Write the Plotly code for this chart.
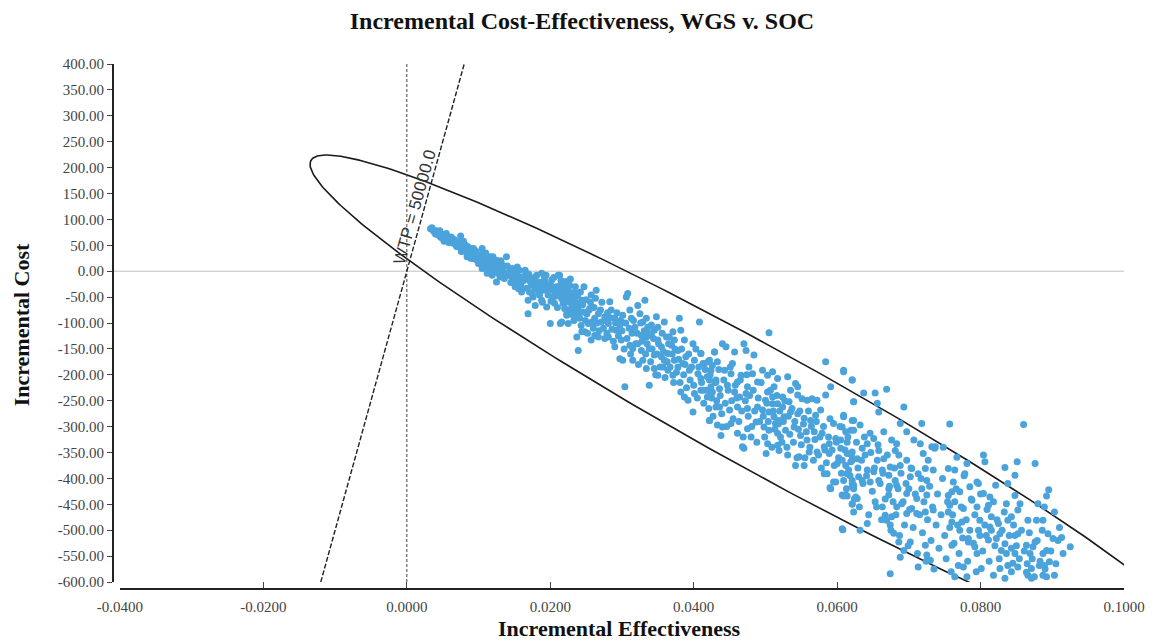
import numpy as np
import plotly.graph_objects as go

# ---------------- data ----------------
# group A: upper-left dense band
eff_a = [0.0033,0.0038,0.0044,0.0050,0.0044,0.0054,0.0061,0.0058,0.0065,0.0063,0.0070,0.0075,0.0077,0.0082,0.0086,
         0.0091,0.0095,0.0084,0.0089,0.0098,0.0105,0.0107,0.0112,0.0116,0.0121,0.0125,0.0128,0.0132,0.0139,0.0137,
         0.0142,0.0105,0.0112,0.0119,0.0125,0.0130,0.0146,0.0151,0.0156,0.0160,0.0165,0.0169,0.0174,0.0179,0.0181,
         0.0183,0.0188,0.0190,0.0195,0.0197,0.0202,0.0207,0.0211,0.0214,0.0216,0.0220,0.0225,0.0227,0.0230,0.0234,
         0.0237,0.0232,0.0239,0.0169,0.0176,0.0179,0.0188,0.0195,0.0200,0.0214,0.0169,0.0220,0.0223,0.0156,0.0160,
         0.0151,0.0100,0.0109,0.0114,0.0123,0.0132,0.0144,0.0153,0.0158,0.0165,0.0176,0.0186,0.0193,0.0200,0.0204,
         0.0209,0.0218,0.0225,0.0230,0.0234,0.0036,0.0041,0.0047,0.0052,0.0056,0.0068,0.0072,0.0080,0.0088,0.0093,
         0.0102,0.0110,0.0118,0.0127,0.0135,0.0148,0.0154,0.0162,0.0171,0.0185,0.0192,0.0206,0.0212,0.0222,
         0.0035,0.0040,0.0046,0.0049,0.0055,0.0059,0.0062,0.0066,0.0069,0.0073,0.0076,0.0079,0.0083,0.0085,0.0090,
         0.0093,0.0096,0.0099,0.0103,0.0106,0.0108,0.0111,0.0115,0.0117,0.0120,0.0122,0.0126,0.0129,0.0131,0.0134,
         0.0136,0.0140,0.0143,0.0145,0.0147,0.0150,0.0152,0.0155,0.0157,0.0159,0.0163,0.0167,0.0170,0.0172,0.0175,
         0.0178,0.0180,0.0184,0.0187,0.0189,0.0191,0.0194,0.0198,0.0201,0.0203,0.0205,0.0208,0.0210,0.0213,0.0215]
cost_a = [82,76,73,71,70,63,60,63,54,57,47,68,44,50,41,
          37,31,28,25,21,44,18,12,28,15,21,8,2,28,-4,
          -8,5,-4,-8,-21,-11,-11,-17,-27,-21,2,-14,-27,-34,-8,
          -21,-4,-37,-30,-46,-17,-40,-8,-27,-53,-43,-34,-27,-50,-40,
          -62,-85,-79,-56,-50,-66,-56,-69,-101,-101,-82,-72,-85,-34,-40,
          -30,15,25,5,-1,15,2,-4,-11,-8,-17,-30,-21,-27,-50,
          -30,-34,-53,-66,-56,80,78,66,58,68,52,57,42,33,44,
          32,35,20,10,-2,-20,8,-12,-40,-46,-12,-62,-44,-20,
          84,72,78,64,73,55,66,61,49,52,38,58,36,47,44,
          24,39,29,20,33,9,22,14,-2,28,5,12,-6,20,8,
          -14,10,-3,-22,5,-8,-24,-14,2,-30,-18,-33,-6,-20,-44,
          -12,-28,-40,-22,-60,-32,-8,-38,-58,-30,-12,-48,-70,-36,-18]

# group B: second segment
eff_b = [0.0213,0.0216,0.0220,0.0218,0.0225,0.0230,0.0234,0.0223,0.0232,0.0239,0.0244,0.0246,0.0241,0.0251,0.0255,
         0.0257,0.0264,0.0253,0.0262,0.0267,0.0271,0.0276,0.0281,0.0283,0.0285,0.0290,0.0292,0.0297,0.0301,0.0306,
         0.0308,0.0311,0.0313,0.0318,0.0322,0.0325,0.0329,0.0332,0.0334,0.0336,0.0341,0.0345,0.0348,0.0350,0.0355,
         0.0359,0.0362,0.0364,0.0369,0.0371,0.0373,0.0378,0.0380,0.0382,0.0385,0.0387,0.0389,0.0394,0.0399,0.0401,
         0.0406,0.0408,0.0410,0.0415,0.0419,0.0422,0.0424,0.0429,0.0431,0.0426,0.0410,0.0401,0.0387,0.0392,0.0382,
         0.0399,0.0419,0.0431,0.0422,0.0304,0.0338,0.0297,0.0301,0.0315,0.0329,0.0334,0.0345,0.0350,0.0357,0.0364,
         0.0371,0.0378,0.0239,0.0237,0.0244,0.0225,0.0216,0.0322,0.0327,0.0311,0.0315,0.0299,0.0290,0.0281,0.0276,
         0.0267,0.0262,0.0257,0.0248,0.0338,0.0345,0.0355,0.0359,0.0334,0.0327,0.0366,0.0373,0.0350,0.0341,
         0.0219,0.0222,0.0224,0.0226,0.0228,0.0231,0.0233,0.0235,0.0236,0.0238,0.0240,0.0242,0.0243,0.0245,0.0247,
         0.0249,0.0250,0.0252,0.0254,0.0256,0.0258,0.0260,0.0261,0.0263,0.0265,0.0268,0.0270,0.0272,0.0274,0.0277,
         0.0279,0.0280,0.0284,0.0286,0.0288,0.0291,0.0293,0.0295,0.0298,0.0300,0.0303,0.0305,0.0307,0.0310,0.0312,
         0.0314,0.0316,0.0319,0.0321,0.0323,0.0326,0.0328,0.0331,0.0333,0.0335,0.0337,0.0340,0.0342,0.0344,0.0347,
         0.0349,0.0351,0.0353,0.0356,0.0358,0.0360,0.0363,0.0365,0.0367,0.0370,0.0372,0.0374,0.0376,0.0379,0.0381,
         0.0383,0.0386,0.0388,0.0390,0.0393,0.0395,0.0397,0.0400,0.0403]
cost_b = [-8,-40,-50,-62,-30,-43,-53,-82,-75,-69,-56,-79,-91,-82,-72,
          -46,-37,-101,-91,-82,-98,-88,-101,-59,-75,-91,-114,-104,-85,-50,
          -43,-75,-91,-108,-66,-82,-98,-56,-91,-108,-124,-114,-88,-133,-146,
          -98,-127,-159,-143,-117,-172,-153,-91,-114,-178,-133,-165,-191,-140,-172,
          -198,-98,-159,-178,-204,-172,-191,-156,-210,-233,-230,-236,-243,-249,-233,
          -272,-243,-262,-288,-223,-220,-169,-172,-172,-172,-188,-188,-201,-185,-191,
          -201,-185,-153,-127,-117,-101,-98,-140,-153,-143,-149,-133,-146,-127,-130,
          -127,-124,-133,-117,-149,-162,-165,-172,-127,-124,-127,-133,-108,-104,
          -25,-60,-42,-75,-15,-58,-95,-30,-70,-48,-88,-40,-105,-65,-30,
          -95,-55,-120,-75,-60,-98,-110,-70,-52,-100,-115,-75,-60,-110,-95,
          -120,-80,-90,-112,-135,-100,-80,-125,-95,-115,-150,-100,-130,-110,-160,
          -120,-95,-140,-120,-180,-100,-135,-115,-160,-140,-120,-175,-150,-130,-200,
          -160,-140,-185,-120,-155,-205,-175,-140,-185,-160,-215,-150,-195,-170,-215,
          -150,-200,-180,-225,-160,-210,-185,-220,-150]

# group C: middle segment
eff_c = [0.0505,0.0440,0.0445,0.0470,0.0473,0.0410,0.0429,0.0457,0.0484,0.0413,0.0420,0.0426,0.0433,0.0443,0.0454,
         0.0452,0.0466,0.0477,0.0482,0.0496,0.0503,0.0510,0.0517,0.0531,0.0542,0.0545,0.0535,0.0512,0.0503,0.0489,
         0.0475,0.0461,0.0447,0.0436,0.0424,0.0413,0.0424,0.0457,0.0464,0.0473,0.0500,0.0510,0.0517,0.0524,0.0533,
         0.0545,0.0551,0.0558,0.0565,0.0572,0.0584,0.0410,0.0422,0.0431,0.0584,0.0609,0.0621,0.0623,0.0591,0.0609,
         0.0623,0.0619,0.0607,0.0595,0.0577,0.0570,0.0563,0.0554,0.0545,0.0535,0.0526,0.0519,0.0512,0.0505,0.0496,
         0.0489,0.0475,0.0461,0.0450,0.0436,0.0422,0.0433,0.0440,0.0452,0.0438,0.0461,0.0475,0.0480,0.0487,0.0498,
         0.0505,0.0514,0.0521,0.0528,0.0540,0.0549,0.0558,0.0568,0.0579,0.0589,0.0598,0.0605,0.0614,0.0621,0.0612,
         0.0600,0.0589,0.0582,0.0572,0.0561,0.0547,0.0542,0.0554,0.0531,0.0519,0.0517,0.0503,0.0501,0.0470,0.0468,
         0.0582,0.0586,0.0595,0.0591,0.0607,0.0621,0.0614,0.0621,0.0517,0.0524,0.0510,
         0.0590,0.0598,0.0621,0.0623,0.0609,0.0614,0.0626,0.0621,0.0623,0.0608,
         0.0405,0.0407,0.0411,0.0414,0.0416,0.0418,0.0421,0.0423,0.0425,0.0427,0.0430,0.0432,0.0435,0.0437,0.0439,
         0.0442,0.0444,0.0446,0.0448,0.0451,0.0453,0.0455,0.0458,0.0460,0.0463,0.0465,0.0467,0.0469,0.0472,0.0474,
         0.0476,0.0478,0.0481,0.0483,0.0485,0.0488,0.0490,0.0492,0.0494,0.0497,0.0499,0.0502,0.0504,0.0507,0.0509,
         0.0511,0.0513,0.0516,0.0518,0.0520,0.0523,0.0525,0.0527,0.0530,0.0532,0.0534,0.0537,0.0539,0.0541,0.0544,
         0.0546,0.0548,0.0550,0.0553,0.0555,0.0557,0.0560,0.0562,0.0564,0.0567,0.0569,0.0571,0.0574,0.0576,0.0578,
         0.0581,0.0583,0.0585,0.0588,0.0590,0.0593,0.0596,0.0599,0.0602]
cost_c = [-119,-140,-146,-140,-153,-159,-156,-156,-162,-178,-175,-182,-175,-191,-178,
          -198,-201,-185,-198,-191,-201,-194,-207,-204,-217,-223,-230,-223,-233,-214,
          -223,-214,-220,-227,-223,-230,-239,-233,-243,-236,-249,-243,-256,-243,-252,
          -239,-246,-249,-246,-249,-239,-207,-210,-214,-175,-191,-210,-252,-223,-281,
          -288,-307,-301,-294,-268,-278,-288,-284,-275,-272,-281,-288,-281,-272,-268,
          -262,-265,-262,-268,-262,-288,-297,-301,-294,-317,-313,-304,-320,-291,-301,
          -307,-294,-320,-307,-301,-317,-326,-310,-313,-333,-323,-342,-352,-365,-375,
          -371,-352,-339,-349,-349,-358,-375,-375,-355,-346,-336,-333,-352,-342,-339,
          -391,-391,-407,-420,-432,-416,-391,-404,-313,-262,-256,
          -418,-407,-410,-420,-434,-434,-436,-450,-465,-499,
          -245,-185,-215,-255,-190,-230,-265,-200,-245,-280,-215,-250,-190,-240,-275,
          -210,-255,-300,-230,-185,-250,-285,-220,-245,-290,-210,-270,-320,-250,-200,
          -280,-240,-300,-230,-270,-330,-245,-290,-215,-280,-320,-255,-290,-230,-340,
          -270,-305,-240,-295,-270,-330,-290,-250,-340,-280,-315,-265,-330,-290,-360,
          -305,-270,-335,-295,-360,-310,-270,-340,-300,-365,-325,-290,-355,-320,-380,
          -300,-345,-370,-320,-285,-345,-375,-330,-360]

# group D: lower-middle segment
eff_d = [0.0609,0.0621,0.0637,0.0653,0.0669,0.0623,0.0656,0.0658,0.0693,0.0688,0.0718,0.0697,0.0609,0.0621,0.0632,
         0.0612,0.0623,0.0646,0.0651,0.0665,0.0676,0.0683,0.0707,0.0716,0.0732,0.0737,0.0605,0.0614,0.0621,0.0635,
         0.0642,0.0658,0.0681,0.0686,0.0697,0.0720,0.0727,0.0607,0.0619,0.0628,0.0639,0.0656,0.0665,0.0674,0.0688,
         0.0704,0.0723,0.0734,0.0616,0.0630,0.0642,0.0651,0.0663,0.0672,0.0681,0.0702,0.0713,0.0725,0.0609,0.0623,
         0.0635,0.0646,0.0658,0.0672,0.0683,0.0700,0.0718,0.0612,0.0628,0.0621,0.0653,0.0663,0.0672,0.0676,0.0683,
         0.0690,0.0697,0.0711,0.0725,0.0697,0.0704,0.0711,0.0723,0.0734,0.0667,0.0669,0.0674,0.0679,0.0686,0.0702,
         0.0723,0.0693,0.0607,0.0632,0.0642,0.0688,0.0725,0.0713,0.0674,0.0730,0.0736,0.0748,
         0.0604,0.0606,0.0611,0.0613,0.0615,0.0618,0.0620,0.0624,0.0627,0.0629,0.0631,0.0634,0.0636,0.0638,0.0641,
         0.0644,0.0647,0.0649,0.0652,0.0655,0.0657,0.0660,0.0662,0.0664,0.0667,0.0670,0.0673,0.0675,0.0678,0.0680,
         0.0682,0.0685,0.0687,0.0689,0.0692,0.0694,0.0696,0.0699,0.0701,0.0703,0.0706,0.0709,0.0712,0.0715,0.0717,
         0.0719,0.0721,0.0724,0.0726,0.0729,0.0731,0.0733,0.0735,0.0738,0.0740,0.0742,0.0745,0.0747]
cost_d = [-194,-210,-235,-235,-228,-252,-255,-272,-262,-294,-294,-310,-278,-288,-297,
          -310,-307,-313,-323,-310,-326,-333,-326,-333,-339,-339,-326,-330,-349,-342,
          -333,-346,-346,-355,-365,-352,-365,-365,-368,-362,-355,-365,-362,-378,-375,
          -381,-381,-384,-384,-397,-384,-387,-384,-394,-404,-397,-391,-404,-404,-413,
          -404,-407,-404,-420,-413,-420,-420,-432,-439,-449,-445,-455,-432,-474,-455,
          -449,-429,-439,-432,-468,-458,-468,-465,-461,-471,-481,-490,-506,-523,-523,
          -529,-539,-497,-500,-487,-552,-548,-571,-584,-558,-342,-340,
          -300,-390,-345,-420,-320,-395,-355,-440,-330,-380,-455,-365,-410,-320,-395,
          -470,-350,-425,-380,-455,-335,-410,-480,-390,-440,-355,-415,-500,-445,-380,
          -470,-420,-510,-390,-445,-490,-410,-530,-460,-380,-495,-430,-545,-470,-400,
          -505,-445,-560,-480,-415,-520,-455,-575,-490,-430,-535,-470,-400]

# group E: lower-right tail
eff_e = [0.0767,0.0781,0.0804,0.0806,0.0834,0.0851,0.0876,0.0848,0.0838,0.0821,0.0764,0.0755,0.0778,0.0795,0.0785,
         0.0797,0.0762,0.0760,0.0771,0.0755,0.0804,0.0813,0.0788,0.0764,0.0757,0.0776,0.0795,0.0811,0.0836,0.0848,
         0.0855,0.0852,0.0880,0.0889,0.0892,0.0895,0.0903,0.0866,0.0878,0.0887,0.0910,0.0894,0.0901,0.0913,0.0925,
         0.0755,0.0760,0.0774,0.0799,0.0815,0.0813,0.0825,0.0838,0.0843,0.0848,0.0852,0.0827,0.0822,0.0808,0.0799,
         0.0783,0.0771,0.0760,0.0783,0.0792,0.0795,0.0811,0.0834,0.0829,0.0843,0.0848,0.0864,0.0873,0.0876,0.0869,
         0.0887,0.0892,0.0838,0.0845,0.0852,0.0864,0.0871,0.0882,0.0889,0.0896,0.0769,0.0776,0.0801,0.0827,0.0818,
         0.0834,0.0866,0.0871,0.0887,0.0892,0.0903,0.0781,0.0764,0.0860,0.0757,
         0.0750,0.0752,0.0754,0.0757,0.0759,0.0761,0.0763,0.0766,0.0768,0.0770,0.0773,0.0775,0.0777,0.0780,0.0782,
         0.0785,0.0787,0.0790,0.0792,0.0794,0.0797,0.0800,0.0803,0.0806,0.0809,0.0812,0.0815,0.0818,0.0820,0.0823,
         0.0826,0.0830,0.0833,0.0836,0.0840,0.0843,0.0846,0.0850,0.0854,0.0857,0.0861,0.0865,0.0868,0.0872,0.0875,
         0.0879,0.0883,0.0886,0.0890,0.0898,0.0905,0.0908,0.0915]
cost_e = [-359,-371,-355,-368,-379,-368,-371,-394,-410,-413,-384,-381,-391,-407,-416,
          -410,-407,-426,-426,-433,-429,-436,-442,-445,-452,-458,-455,-452,-449,-433,
          -449,-461,-449,-455,-434,-422,-465,-481,-481,-481,-495,-507,-516,-514,-532,
          -465,-484,-484,-481,-474,-494,-487,-481,-474,-510,-507,-507,-516,-510,-510,
          -516,-500,-529,-523,-532,-545,-519,-526,-539,-535,-545,-529,-532,-523,-545,
          -545,-539,-568,-564,-571,-581,-574,-568,-568,-561,-568,-571,-574,-574,-587,
          -593,-587,-593,-587,-590,-587,-590,-590,-296,-295,
          -510,-555,-445,-495,-580,-470,-525,-420,-490,-545,-455,-515,-395,-480,-560,
          -500,-440,-525,-470,-580,-500,-430,-540,-490,-460,-560,-500,-445,-530,-480,
          -555,-500,-465,-545,-510,-580,-490,-530,-555,-500,-540,-565,-505,-555,-590,
          -520,-560,-500,-575,-540,-565,-520,-545]

incremental_effectiveness = eff_a + eff_b + eff_c + eff_d + eff_e
incremental_cost = cost_a + cost_b + cost_c + cost_d + cost_e

# willingness-to-pay threshold
WTP = 50000.0

# confidence ellipse (centre and conjugate semi-axis vectors, data units)
ellipse_center = (0.0497, -268.3)
ellipse_u = (0.0632, -474.7)   # multiplies cos(t)
ellipse_v = (0.0, -131.3)      # multiplies sin(t)

# axes
x_range = [-0.04, 0.10]
y_range = [-600, 400]
x_tick_values = [-0.04, -0.02, 0.0, 0.02, 0.04, 0.06, 0.08, 0.10]
y_tick_values = [-600, -550, -500, -450, -400, -350, -300, -250, -200, -150, -100, -50,
                 0, 50, 100, 150, 200, 250, 300, 350, 400]
x_tick_labels = [f"{v:.4f}" for v in x_tick_values]
y_tick_labels = [f"{v:.2f}" for v in y_tick_values]

# ---------------- figure ----------------
OFF = 8                       # page body margin in the browser
W, H = 1157 - OFF, 643 - OFF
ML, MR, MT, MB = 113 - OFF, 29, 64 - OFF, 54
plot_w = W - ML - MR
plot_h = H - MT - MB
plot_bottom_page = OFF + H - MB
gap = 7  # px offset between the two axis lines (Excel style)


def px_paper_x(px):
    return (px - OFF - ML) / plot_w


def px_paper_y(py):
    return (plot_bottom_page - py) / plot_h


serif = "Liberation Serif, Times New Roman, serif"

t = np.linspace(0, 2 * np.pi, 400)
ex = ellipse_center[0] + ellipse_u[0] * np.cos(t) + ellipse_v[0] * np.sin(t)
ey = ellipse_center[1] + ellipse_u[1] * np.cos(t) + ellipse_v[1] * np.sin(t)

fig = go.Figure()

fig.add_trace(go.Scatter(x=ex, y=ey, mode="lines",
                         line=dict(color="#1a1a1a", width=1.6),
                         hoverinfo="skip", showlegend=False))

fig.add_trace(go.Scatter(x=[0, 0], y=y_range, mode="lines",
                         line=dict(color="#444444", width=1, dash="3px,2px"),
                         hoverinfo="skip", showlegend=False))

fig.add_trace(go.Scatter(x=[y_range[0] / WTP, y_range[1] / WTP], y=y_range, mode="lines",
                         line=dict(color="#222222", width=1.4, dash="5px,2px"),
                         hoverinfo="skip", showlegend=False))

fig.add_trace(go.Scatter(x=incremental_effectiveness, y=incremental_cost, mode="markers",
                         marker=dict(color="#4BA3DB", size=7, line=dict(width=0)),
                         showlegend=False))

fig.update_layout(
    width=W, height=H,
    margin=dict(l=ML, r=MR, t=MT, b=MB),
    paper_bgcolor="white", plot_bgcolor="white",
    showlegend=False,
    title=dict(text="Incremental Cost-Effectiveness, WGS v. SOC",
               font=dict(family=serif, size=24, color="#111111", weight="bold"),
               xref="container", x=(582 - OFF) / W, xanchor="center",
               yref="container", y=1 - (21 - OFF) / H, yanchor="middle"),
    xaxis=dict(domain=[gap / plot_w, 1], range=x_range, anchor="free", position=0,
               showline=True, linecolor="#222222", linewidth=2,
               ticks="inside", ticklen=6, tickcolor="#444444", tickwidth=1,
               tickvals=x_tick_values, ticktext=x_tick_labels,
               tickfont=dict(family=serif, size=15, color="#444444"),
               ticklabelstandoff=4,
               showgrid=False, zeroline=False),
    yaxis=dict(domain=[gap / plot_h, 1], range=y_range, anchor="free", position=0,
               showline=True, linecolor="#222222", linewidth=2,
               ticks="outside", ticklen=5, tickcolor="#444444", tickwidth=1,
               tickvals=y_tick_values, ticktext=y_tick_labels,
               tickfont=dict(family=serif, size=15, color="#444444"),
               showgrid=False, zeroline=False),
    shapes=[dict(type="line", xref="paper", yref="y", x0=0, x1=1, y0=0, y1=0,
                 line=dict(color="#c0c0c0", width=1), layer="below")],
    annotations=[
        dict(text="Incremental Effectiveness", xref="paper", yref="paper",
             x=px_paper_x(622), y=px_paper_y(628),
             xanchor="center", yanchor="middle", showarrow=False,
             font=dict(family=serif, size=22, color="#111111", weight="bold")),
        dict(text="Incremental Cost", xref="paper", yref="paper",
             x=px_paper_x(21), y=px_paper_y(325),
             xanchor="center", yanchor="middle", textangle=-90, showarrow=False,
             font=dict(family=serif, size=22, color="#111111", weight="bold")),
        dict(text="WTP = 50000.0", xref="x", yref="y", x=0.0011, y=123,
             xanchor="center", yanchor="middle", textangle=-74.4, showarrow=False,
             font=dict(family="Liberation Sans, Arial, sans-serif", size=17, color="#333333")),
    ],
)

fig.write_html("out.html")
